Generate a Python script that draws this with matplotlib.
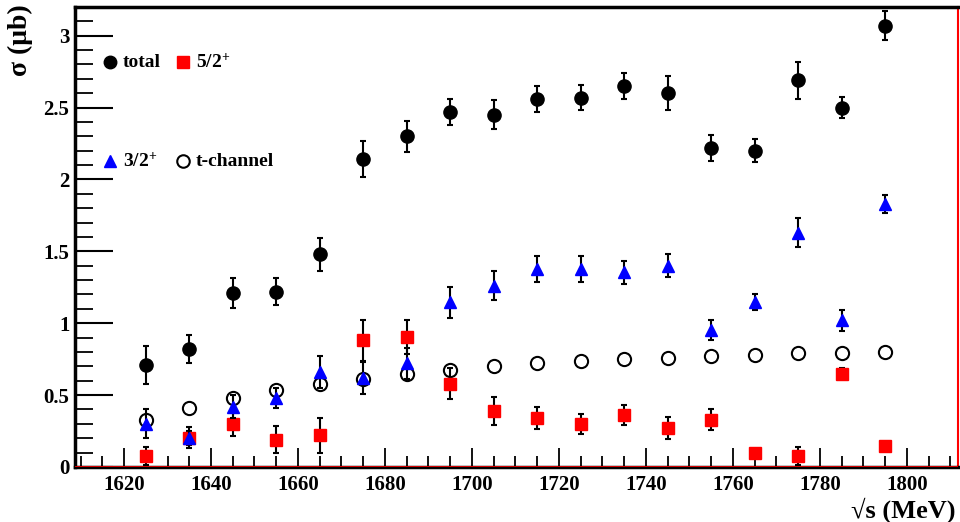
import numpy as np
import matplotlib
matplotlib.use('Agg')
import matplotlib.pyplot as plt
from matplotlib.ticker import MultipleLocator, FormatStrFormatter

plt.rcParams['font.family'] = ['Liberation Serif', 'DejaVu Serif']
plt.rcParams['font.weight'] = 'bold'
plt.rcParams['mathtext.fontset'] = 'custom'
plt.rcParams['mathtext.rm'] = 'Liberation Serif:bold'
plt.rcParams['mathtext.bf'] = 'Liberation Serif:bold'
plt.rcParams['mathtext.default'] = 'rm'

# energies (MeV)
energy = [1625, 1635, 1645, 1655, 1665, 1675, 1685, 1695, 1705, 1715,
          1725, 1735, 1745, 1755, 1765, 1775, 1785, 1795]

# total cross section
total = [0.71, 0.82, 1.21, 1.22, 1.48, 2.14, 2.30, 2.47, 2.45, 2.56,
         2.57, 2.65, 2.60, 2.22, 2.20, 2.69, 2.50, 3.07]
total_err = [0.135, 0.095, 0.105, 0.095, 0.115, 0.125, 0.11, 0.09, 0.10, 0.09,
             0.09, 0.09, 0.12, 0.09, 0.08, 0.13, 0.075, 0.10]

# 5/2+ contribution
j52 = [0.076, 0.20, 0.30, 0.19, 0.22, 0.88, 0.905, 0.58, 0.39, 0.34,
       0.30, 0.36, 0.27, 0.33, 0.095, 0.076, 0.65, 0.146]
j52_err = [0.06, 0.05, 0.085, 0.095, 0.12, 0.14, 0.12, 0.11, 0.10, 0.075,
           0.07, 0.07, 0.075, 0.07, 0.01, 0.06, 0.04, 0.02]

# 3/2+ contribution
j32 = [0.30, 0.205, 0.42, 0.477, 0.66, 0.62, 0.72, 1.145, 1.26, 1.375,
       1.38, 1.356, 1.40, 0.95, 1.15, 1.63, 1.02, 1.83]
j32_err = [0.10, 0.07, 0.08, 0.07, 0.11, 0.11, 0.11, 0.11, 0.10, 0.09,
           0.09, 0.08, 0.08, 0.07, 0.055, 0.10, 0.075, 0.06]

# t-channel
tch = [0.33, 0.41, 0.48, 0.535, 0.58, 0.615, 0.65, 0.676, 0.70, 0.72,
       0.736, 0.75, 0.76, 0.77, 0.78, 0.79, 0.796, 0.80]

fig = plt.figure(figsize=(9.6, 5.22), dpi=100)
ax = fig.add_axes([0.078, 0.1054, 0.92, 0.8812])

eb = dict(ecolor='black', elinewidth=1.5, capsize=2, capthick=1.5, linestyle='none')
ax.errorbar(energy, total, yerr=total_err, marker='o', ms=9.5, color='black',
            mfc='black', mec='black', zorder=3, **eb)
ax.plot(energy, tch, linestyle='none', marker='o', ms=9.5, mfc='white',
        mec='black', mew=1.5, zorder=3)
ax.errorbar(energy, j52, yerr=j52_err, marker='s', ms=9, color='red',
            mfc='red', mec='red', zorder=4, **eb)
ax.errorbar(energy, j32, yerr=j32_err, marker='^', ms=9, color='blue',
            mfc='blue', mec='blue', zorder=5, **eb)

ax.set_xlim(1608.7, 1811.8)
ax.set_ylim(0, 3.2)

ax.xaxis.set_major_locator(MultipleLocator(20))
ax.xaxis.set_minor_locator(MultipleLocator(5))
ax.yaxis.set_major_locator(MultipleLocator(0.5))
ax.yaxis.set_minor_locator(MultipleLocator(0.1))
ax.yaxis.set_major_formatter(FormatStrFormatter('%g'))

ax.tick_params(axis='x', which='major', direction='in', length=14, width=1.3,
               pad=6, labelsize=15, top=False)
ax.tick_params(axis='x', which='minor', direction='in', length=8, width=1.3, top=False)
ax.tick_params(axis='y', which='major', direction='in', length=27, width=1.5,
               pad=4, labelsize=15, right=False)
ax.tick_params(axis='y', which='minor', direction='in', length=13, width=1.3, right=False)
for lab in ax.get_xticklabels() + ax.get_yticklabels():
    lab.set_fontweight('bold')

for s in ['left', 'top', 'bottom']:
    ax.spines[s].set_linewidth(2.5)
    ax.spines[s].set_color('black')
ax.spines['right'].set_color('red')
ax.spines['right'].set_linewidth(1.5)
ax.axhline(0, color='red', lw=1.2, zorder=6)

# legend drawn by hand like the ROOT original
legend_items = [
    (0.0396, 0.880, dict(marker='o', mfc='black', mec='black'), 'total'),
    (0.1223, 0.880, dict(marker='s', mfc='red', mec='red'), '5/2$^{+}$'),
    (0.0396, 0.665, dict(marker='^', mfc='blue', mec='blue'), '3/2$^{+}$'),
    (0.1223, 0.665, dict(marker='o', mfc='white', mec='black', mew=1.5), 't-channel'),
]
for lx, ly, mk, txt in legend_items:
    ax.plot([lx], [ly], transform=ax.transAxes, linestyle='none', ms=9,
            clip_on=False, zorder=7, **mk)
    ax.text(lx + 0.0147, ly, txt, transform=ax.transAxes, fontsize=14,
            fontweight='bold', va='center', ha='left')

fig.text(0.021, 0.992, 'σ (μb)', rotation=90, ha='center', va='top',
         fontsize=20, fontweight='bold')
fig.text(0.995, 0.008, '√s (MeV)', ha='right', va='baseline',
         fontsize=19, fontweight='bold')

fig.savefig('out.png', dpi=100)
